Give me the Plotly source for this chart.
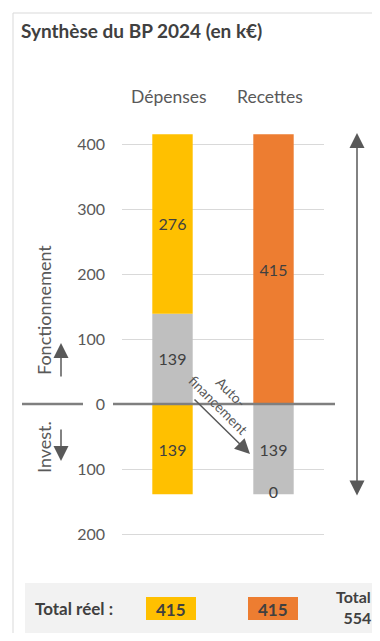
import plotly.graph_objects as go

# --- Data ---
categories = ["Dépenses", "Recettes"]
fonct_autofin = [139, None]      # gray, Dépenses (fonctionnement)
fonct_depenses = [276, None]     # yellow
fonct_recettes = [None, 415]     # orange
invest_depenses = [-139, None]   # yellow (below zero)
invest_autofin = [None, -139]    # gray (below zero)
invest_recettes = [None, 0]      # orange, zero value
totals_reels = [415, 415]
total_general = 554
tick_vals = [400, 300, 200, 100, 0, -100, -200]
tick_text = ["400", "300", "200", "100", "0", "100", "200"]

# --- Colors ---
YELLOW = "#FFC000"
ORANGE = "#ED7D31"
GRAY = "#BFBFBF"
TEXT = "#404040"
AXIS_TEXT = "#595959"
FONT = "Lato, sans-serif"

# page body has an 8px margin, so the figure is drawn 8px in from the corner;
# keep the page within the window height so no scrollbar appears
OFF = 8
W, H = 380 - OFF, 641 - 2 * OFF
ZERO_PX = 404 - OFF
PX_PER_UNIT = 0.65


def px(x):
    return (x - OFF) / W


def py(y):
    return 1 - (y - OFF) / H


fig = go.Figure()


def add_bar(values, color, name):
    fig.add_trace(
        go.Bar(
            x=categories,
            y=values,
            name=name,
            width=0.4,
            marker=dict(color=color, line=dict(width=0)),
            text=[("" if v is None else str(abs(v))) for v in values],
            textposition="inside",
            insidetextanchor="middle",
            constraintext="none",
            textfont=dict(color=TEXT, size=16, family=FONT),
            hoverinfo="x+y",
        )
    )


add_bar(fonct_autofin, GRAY, "Autofinancement")
add_bar(fonct_depenses, YELLOW, "Fonctionnement dépenses")
add_bar(fonct_recettes, ORANGE, "Fonctionnement recettes")
add_bar(invest_depenses, YELLOW, "Investissement dépenses")
add_bar(invest_autofin, GRAY, "Autofinancement (invest.)")

# zero-valued invest. receipts: label sits at the bottom of the negative stack
fig.add_trace(
    go.Scatter(
        x=[categories[1]],
        y=[invest_autofin[1] + invest_recettes[1]],
        mode="text",
        text=[str(invest_recettes[1])],
        textposition="middle center",
        textfont=dict(color=TEXT, size=16, family=FONT),
        hoverinfo="skip",
    )
)

shapes = [
    # card border
    dict(type="line", xref="paper", yref="paper", x0=px(13), x1=px(13), y0=py(13), y1=0,
         line=dict(color="#D9D9D9", width=1)),
    dict(type="line", xref="paper", yref="paper", x0=px(13), x1=1, y0=py(13), y1=py(13),
         line=dict(color="#D9D9D9", width=1)),
    # zero line (with gap for the label)
    dict(type="line", xref="paper", yref="y", x0=px(22), x1=px(83), y0=0, y1=0,
         line=dict(color="#7F7F7F", width=2.5)),
    dict(type="line", xref="paper", yref="y", x0=px(113), x1=px(335), y0=0, y1=0,
         line=dict(color="#7F7F7F", width=2.5)),
    # total band
    dict(type="rect", xref="paper", yref="paper", x0=px(25), x1=1, y0=0, y1=py(583),
         fillcolor="#F2F2F2", line=dict(width=0), layer="below"),
    dict(type="rect", xref="paper", yref="paper", x0=px(146), x1=px(196), y0=py(620), y1=py(597),
         fillcolor=YELLOW, line=dict(width=0)),
    dict(type="rect", xref="paper", yref="paper", x0=px(248), x1=px(298), y0=py(620), y1=py(597),
         fillcolor=ORANGE, line=dict(width=0)),
]

arrow = dict(showarrow=True, text="", arrowhead=2, arrowcolor=AXIS_TEXT,
             xref="paper", yref="paper")


def label(text, x, y, size, color=AXIS_TEXT, angle=0, xanchor="center"):
    return dict(text=text, x=x, y=y, xref="paper", yref="paper", xanchor=xanchor,
                yanchor="middle", textangle=angle, showarrow=False,
                font=dict(size=size, color=color, family=FONT))


annotations = [
    label("<b>Synthèse du BP 2024 (en k€)</b>", px(19), py(30), 19, TEXT, xanchor="left"),
    label(categories[0], px(169), py(96), 17.5),
    label(categories[1], px(270), py(96), 17.5),
    label("Fonctionnement", px(44), py(310), 18, angle=-90),
    label("Invest.", px(44), py(447), 18, angle=-90),
    dict(arrow, x=px(61), y=py(343), ax=0, ay=35, arrowwidth=1.5, arrowsize=2),
    dict(arrow, x=px(61), y=py(461), ax=0, ay=-33, arrowwidth=1.5, arrowsize=2),
    dict(arrow, x=px(357), y=py(133), ax=0, ay=364, arrowside="end+start",
         arrowwidth=1.5, arrowsize=2),
    dict(arrow, x=px(250), y=py(454), ax=-57, ay=-56, arrowwidth=1.5, arrowsize=2),
    label("Auto-<br>financement", px(225), py(398), 14, angle=45),
    label("<b>Total réel :</b>", px(33), py(608), 17, TEXT, xanchor="left"),
    label(f"<b>{totals_reels[0]}</b>", px(171), py(609), 17, TEXT),
    label(f"<b>{totals_reels[1]}</b>", px(273), py(609), 17, TEXT),
    label(f"<b>Total :<br>{total_general}</b>", px(357), py(607), 16, TEXT),
]

fig.update_layout(
    width=W,
    height=H,
    margin=dict(l=0, r=0, t=0, b=0),
    paper_bgcolor="white",
    plot_bgcolor="white",
    barmode="relative",
    showlegend=False,
    xaxis=dict(
        domain=[px(122), px(324)],
        range=[-0.5, 1.5],
        showticklabels=False,
        showgrid=False,
        zeroline=False,
        fixedrange=True,
    ),
    yaxis=dict(
        domain=[0, 1],
        range=[-(H - ZERO_PX) / PX_PER_UNIT, ZERO_PX / PX_PER_UNIT],
        tickvals=tick_vals,
        ticktext=tick_text,
        ticklabelstandoff=16,
        tickfont=dict(size=16, color=AXIS_TEXT, family=FONT),
        showgrid=True,
        gridcolor="#D9D9D9",
        gridwidth=1,
        zeroline=False,
        fixedrange=True,
    ),
    shapes=shapes,
    annotations=annotations,
)

fig.write_html("out.html")
